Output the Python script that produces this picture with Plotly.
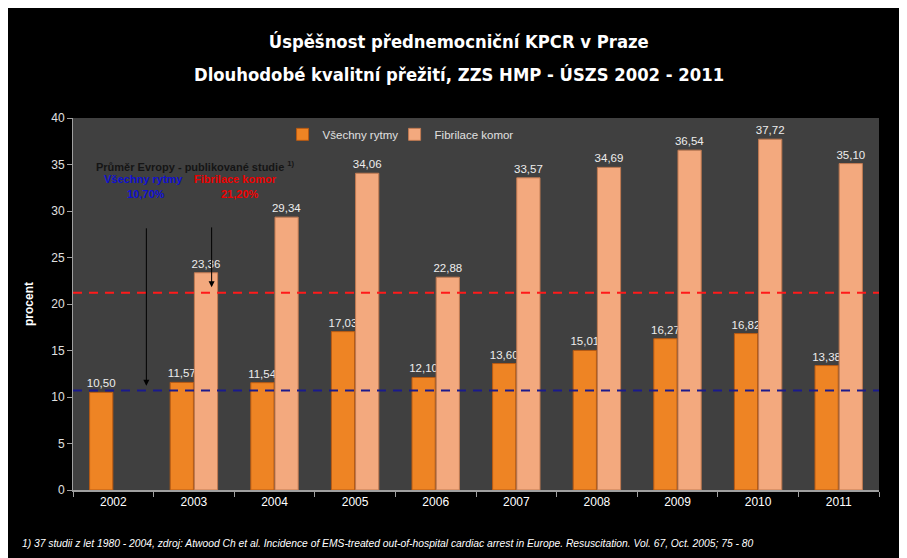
import plotly.graph_objects as go

years = ["2002", "2003", "2004", "2005", "2006", "2007", "2008", "2009", "2010", "2011"]
vsechny = [10.50, 11.57, 11.54, 17.03, 12.10, 13.60, 15.01, 16.27, 16.82, 13.38]
fibrilace = [None, 23.36, 29.34, 34.06, 22.88, 33.57, 34.69, 36.54, 37.72, 35.10]
europe_all = 10.70
europe_vf = 21.20
y_ticks = [0, 5, 10, 15, 20, 25, 30, 35, 40]

COND = "DejaVu Sans Condensed, Liberation Sans Narrow, Liberation Sans, sans-serif"
ARIAL = "Liberation Sans, Arial, sans-serif"

fig = go.Figure()
fig.add_bar(
    x=years, y=vsechny, name="Všechny rytmy", legend="legend",
    marker=dict(color="#EE8424", line=dict(color="#B85A12", width=1)),
    texttemplate="%{y:.2f}", textposition="outside", constraintext="none",
    textfont=dict(color="#EDEDED", size=11.5, family=ARIAL),
    cliponaxis=False,
)
fig.add_bar(
    x=years, y=fibrilace, name="Fibrilace komor", legend="legend2",
    marker=dict(color="#F3A97E", line=dict(color="#C07A52", width=1)),
    texttemplate="%{y:.2f}", textposition="outside", constraintext="none",
    textfont=dict(color="#EDEDED", size=11.5, family=ARIAL),
    cliponaxis=False,
)

# European average reference lines
fig.add_hline(y=europe_vf, line=dict(color="#FF1A1A", width=2, dash="9px,7px"))
fig.add_hline(y=europe_all, line=dict(color="#1A1A8C", width=2, dash="9px,7px"))

fig.add_annotation(xref="paper", yref="paper", x=0.026, y=0.87, xanchor="left", yanchor="middle",
                   text="Průměr Evropy - publikované studie <sup>1)</sup>", showarrow=False,
                   font=dict(color="#151515", size=11, family=ARIAL, weight="bold"))
fig.add_annotation(xref="paper", yref="paper", x=0.087, y=0.835, xanchor="center", yanchor="middle",
                   text="Všechny rytmy", showarrow=False,
                   font=dict(color="#1010D0", size=11, family=ARIAL, weight="bold"))
fig.add_annotation(xref="paper", yref="paper", x=0.09, y=0.795, xanchor="center", yanchor="middle",
                   text="10,70%", showarrow=False,
                   font=dict(color="#1010D0", size=11, family=ARIAL, weight="bold"))
fig.add_annotation(xref="paper", yref="paper", x=0.201, y=0.835, xanchor="center", yanchor="middle",
                   text="Fibrilace komor", showarrow=False,
                   font=dict(color="#EE0000", size=11, family=ARIAL, weight="bold"))
fig.add_annotation(xref="paper", yref="paper", x=0.207, y=0.795, xanchor="center", yanchor="middle",
                   text="21,20%", showarrow=False,
                   font=dict(color="#EE0000", size=11, family=ARIAL, weight="bold"))

# arrows
fig.add_annotation(xref="x domain", yref="y", x=0.091, y=europe_all + 0.5,
                   ax=0.091, ay=28.3, axref="x domain", ayref="y",
                   text="", showarrow=True, arrowhead=2, arrowsize=1.2, arrowwidth=1, arrowcolor="#000000")
fig.add_annotation(xref="x domain", yref="y", x=0.172, y=europe_vf + 0.6,
                   ax=0.172, ay=28.4, axref="x domain", ayref="y",
                   text="", showarrow=True, arrowhead=2, arrowsize=1.2, arrowwidth=1, arrowcolor="#000000")

# second title line
fig.add_annotation(xref="paper", yref="paper", x=0.479, y=1.118, xanchor="center", yanchor="middle",
                   text="Dlouhodobé kvalitní přežití, ZZS HMP - ÚSZS 2002 - 2011", showarrow=False,
                   font=dict(color="#FFFFFF", size=18.3, family=COND, weight="bold"))

# footnote
fig.add_annotation(xref="paper", yref="paper", x=-0.066, y=-0.143, xanchor="left", yanchor="middle",
                   text="<i>1) 37 studii z let 1980 - 2004, zdroj: Atwood Ch et al. Incidence of EMS-treated out-of-hospital cardiac arrest in Europe. Resuscitation. Vol. 67, Oct. 2005; 75 - 80</i>",
                   showarrow=False, font=dict(color="#FFFFFF", size=10.3, family=ARIAL))

legend_style = dict(orientation="h", y=0.995, xanchor="left", yanchor="top",
                    font=dict(color="#E0E0E0", size=11.5, family=ARIAL),
                    bgcolor="rgba(0,0,0,0)", itemwidth=30)

fig.update_layout(
    width=907, height=558,
    margin=dict(l=65, r=36, t=110, b=76),
    paper_bgcolor="#000000",
    plot_bgcolor="#404040",
    separators=", ",
    barmode="group", bargap=0.4, bargroupgap=0.04,
    title=dict(
        text="Úspěšnost přednemocniční KPCR v Praze",
        x=0.497, xanchor="center", y=0.939, yanchor="middle",
        font=dict(color="#FFFFFF", size=18.3, family=COND, weight="bold"),
    ),
    legend=dict(x=0.260, **legend_style),
    legend2=dict(x=0.399, **legend_style),
    showlegend=True,
    xaxis=dict(
        type="category", tickson="boundaries", ticks="outside", ticklen=5, tickcolor="#A0A0A0",
        showline=True, linecolor="#A0A0A0", linewidth=2, showgrid=False,
        tickfont=dict(color="#FFFFFF", size=12, family=ARIAL),
    ),
    yaxis=dict(
        range=[0, 40], tickvals=y_ticks, ticks="outside", ticklen=5, tickcolor="#A0A0A0",
        showline=True, linecolor="#A0A0A0", linewidth=1, showgrid=False, zeroline=False,
        tickfont=dict(color="#E0E0E0", size=12, family=ARIAL),
        title=dict(text="<b>procent</b>", font=dict(color="#FFFFFF", size=12, family=ARIAL), standoff=15),
    ),
)

fig.write_html("out.html")
